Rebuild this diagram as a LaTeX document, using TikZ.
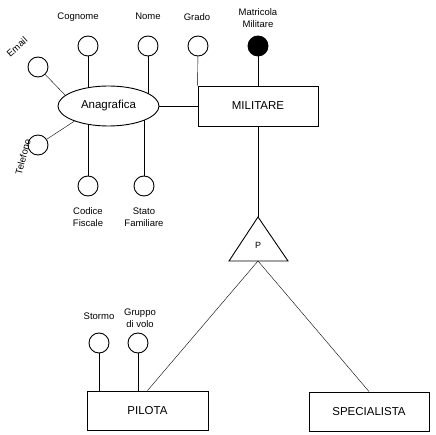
\documentclass[tikz,border=0pt]{standalone}
\usepackage{fontspec}
\setmainfont{Liberation Sans}
\usetikzlibrary{backgrounds,shapes.geometric}
\begin{document}
\begin{tikzpicture}[x=1pt,y=-1pt,line width=0.9pt,
  attr/.style={circle,draw,fill=white,minimum size=20pt,inner sep=0pt},
  keyattr/.style={circle,draw,fill=black,minimum size=20pt,inner sep=0pt},
  entity/.style={rectangle,draw,fill=white,minimum width=120pt,minimum height=40pt,font=\fontsize{11.5}{13}\selectfont},
  lbl/.style={font=\fontsize{9.5}{12}\selectfont,align=center,inner sep=0pt}]
\useasboundingbox (0,0) rectangle (436,435);
% entities
\node[entity] (mil) at (258,106) {MILITARE};
\node[entity,minimum width=121pt,minimum height=39pt] (pil) at (147.5,410.5) {PILOTA};
\node[entity,minimum width=120pt,minimum height=39pt] (spe) at (369,411.5) {SPECIALISTA};
\node[ellipse,draw,fill=white,minimum width=101pt,minimum height=40pt,inner sep=0pt,font=\fontsize{11.5}{13}\selectfont] (ana) at (108.5,106) {Anagrafica};
% attributes
\node[attr] (cog) at (88,46) {};
\node[attr] (nom) at (148,46) {};
\node[attr] (gra) at (198,46) {};
\node[keyattr] (mat) at (258,46) {};
\node[attr] (ema) at (38,67) {};
\node[attr] (tel) at (38,145) {};
\node[attr] (cod) at (88,186) {};
\node[attr] (sta) at (144,186) {};
\node[attr] (sto) at (99,343) {};
\node[attr] (gru) at (138,343) {};
% labels
\node[lbl] (lcog) at (78,17.5) {Cognome};
\node[lbl] (lnom) at (148,16.5) {Nome};
\node[lbl] (lgra) at (197,17.5) {Grado};
\node[lbl] (lmat) at (258,18.5) {Matricola\\Militare};
\node[lbl,rotate=42] (lema) at (17,47) {Email};
\node[lbl,rotate=75] (ltel) at (23,157) {Telefono};
\node[lbl] (lcod) at (88,217) {Codice\\Fiscale};
\node[lbl] (lsta) at (144,217) {Stato\\Familiare};
\node[lbl] (lsto) at (99,316.5) {Stormo};
\node[lbl] (lgru) at (140,318.5) {Gruppo\\di volo};
% generalization triangle
\coordinate (tA) at (258,217);
\coordinate (tL) at (229,261);
\coordinate (tR) at (288,261);
\coordinate (tB) at (258,261);
\draw (tA) -- (tL) -- (tR) -- cycle;
\node[font=\fontsize{9}{10}\selectfont] (p) at (258,245) {P};
\begin{scope}[on background layer]
\draw (cog) -- (cog |- ana.center);
\draw (nom) -- (nom |- ana.center);
\draw (cod) -- (cod |- ana.center);
\draw (sta) -- (sta |- ana.center);
\draw (ema) -- (ana.166);
\draw (tel) -- (ana.204);
\draw (ana) -- (mil);
\draw (gra) -- (mil.north west);
\draw (mat) -- (mat |- mil.north);
\draw (sto) -- (sto |- pil.north);
\draw (gru) -- (gru |- pil.north);
\draw (mil.south) -- (tA);
\draw (tB) -- (pil.north);
\draw (tB) -- (spe.north);
\end{scope}
\end{tikzpicture}
\end{document}
